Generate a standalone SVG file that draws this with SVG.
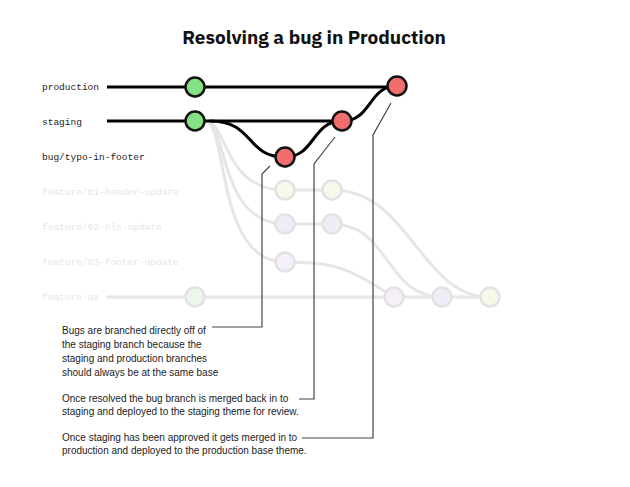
<svg xmlns="http://www.w3.org/2000/svg" width="630" height="487" viewBox="0 0 630 487">
<style>
.title{font-family:"IBM Plex Sans","Liberation Sans",Arial,sans-serif;font-weight:bold;font-size:19px;fill:#111}
.lbl{font-family:"Liberation Mono","DejaVu Sans Mono",monospace;font-size:9.5px;fill:#222}
.flbl{font-family:"Liberation Mono","DejaVu Sans Mono",monospace;font-size:9.5px;fill:#e6e6e6}
.note{font-family:"Liberation Sans",Arial,sans-serif;font-size:10px;fill:#222}
.main{fill:none;stroke:#000;stroke-width:3}
.faint{fill:none;stroke:#e6e6e6;stroke-width:3}
.call{fill:none;stroke:#444;stroke-width:1.2}
.ng{fill:#86e086;stroke:#111;stroke-width:2.5}
.nr{fill:#f26d6d;stroke:#111;stroke-width:2.5}
.nf{stroke:#e2e2e2;stroke-width:2.5}
</style>
<rect width="630" height="487" fill="#fff"/>
<text class="title" x="314" y="44" text-anchor="middle">Resolving a bug in Production</text>

<g id="labels">
<text class="lbl" x="42" y="90">production</text>
<text class="lbl" x="42" y="125">staging</text>
<text class="lbl" x="42" y="160">bug/typo-in-footer</text>
<text class="flbl" x="42" y="195">feature/01-header-update</text>
<text class="flbl" x="42" y="230">feature/02-nls-update</text>
<text class="flbl" x="42" y="265">feature/03-footer-update</text>
<text class="flbl" x="42" y="300">feature-qa</text>
</g>

<g id="connectors">
<path class="faint" d="M107,297 H490"/>
<path class="faint" d="M205,121 C228,121 222,190 285,190 H332"/>
<path class="faint" d="M205,121 C228,121 218,224 285,224 H332"/>
<path class="faint" d="M205,121 C228,121 215,262 285,262"/>
<path class="faint" d="M332,190 C410,190 420,297 490,297"/>
<path class="faint" d="M332,224 C390,224 385,297 442,297"/>
<path class="faint" d="M285,262 C340,262 350,270 394,297"/>
<path class="main" d="M107,87 H397"/>
<path class="main" d="M107,121 H342"/>
<path class="main" d="M210,121 C255,121 245,157 285,157"/>
<path class="main" d="M285,157 C315,157 312,121 342,121"/>
<path class="main" d="M342,121 C372,121 368,86 397,86"/>
<path class="call" d="M270,166 L262,174 V327 H212"/>
<path class="call" d="M335,137 L314,164 V399 H299"/>
<path class="call" d="M391,103 L373,135 V438 H302"/>
</g>

<g id="node-prod-1"><circle class="ng" cx="195" cy="87" r="9.5"/></g>
<g id="node-prod-2"><circle class="nr" cx="397" cy="86" r="9.5"/></g>
<g id="node-stag-1"><circle class="ng" cx="195" cy="121" r="9.5"/></g>
<g id="node-stag-2"><circle class="nr" cx="342" cy="121" r="9.5"/></g>
<g id="node-bug-1"><circle class="nr" cx="285" cy="157" r="9.5"/></g>
<g id="node-f1-1"><circle class="nf" fill="#f8f8e8" cx="285" cy="190" r="9.5"/></g>
<g id="node-f1-2"><circle class="nf" fill="#f8f8e8" cx="332" cy="190" r="9.5"/></g>
<g id="node-f2-1"><circle class="nf" fill="#eeeef8" cx="285" cy="224" r="9.5"/></g>
<g id="node-f2-2"><circle class="nf" fill="#eeeef8" cx="332" cy="224" r="9.5"/></g>
<g id="node-f3-1"><circle class="nf" fill="#f4eff8" cx="285" cy="262" r="9.5"/></g>
<g id="node-qa-1"><circle class="nf" fill="#ecf7ec" cx="195" cy="297" r="9.5"/></g>
<g id="node-qa-2"><circle class="nf" fill="#f4eff8" cx="394" cy="297" r="9.5"/></g>
<g id="node-qa-3"><circle class="nf" fill="#eeeef8" cx="442" cy="297" r="9.5"/></g>
<g id="node-qa-4"><circle class="nf" fill="#f8f8e8" cx="490" cy="297" r="9.5"/></g>

<g id="notes">
<text class="note" x="62" y="334">Bugs are branched directly off of</text>
<text class="note" x="62" y="348">the staging branch because the</text>
<text class="note" x="62" y="362">staging and production branches</text>
<text class="note" x="62" y="376">should always be at the same base</text>
<text class="note" x="62" y="402">Once resolved the bug branch is merged back in to</text>
<text class="note" x="62" y="415">staging and deployed to the staging theme for review.</text>
<text class="note" x="62" y="441">Once staging has been approved it gets merged in to</text>
<text class="note" x="62" y="454">production and deployed to the production base theme.</text>
</g>
</svg>
